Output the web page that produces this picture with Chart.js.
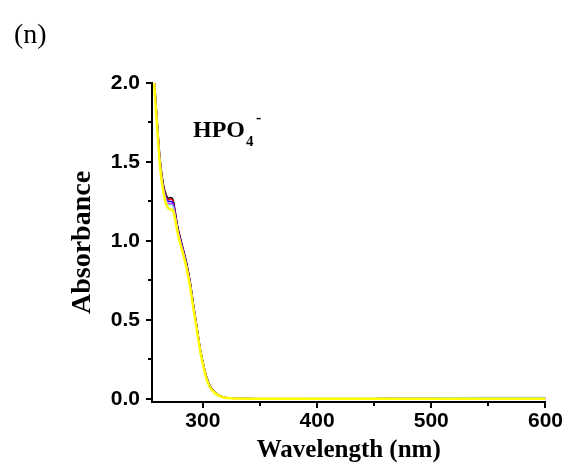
<!DOCTYPE html>
<html>
<head>
<meta charset="utf-8">
<script src="https://cdn.jsdelivr.net/npm/chart.js@4/dist/chart.umd.min.js"></script>
<style>
  html, body { margin: 0; padding: 0; background: #fff; }
  #wrap { width: 570px; height: 469px; }
</style>
</head>
<body>
<div id="wrap"><canvas id="chart" width="570" height="469"></canvas></div>
<script>
// wavelength grid (nm)
const wavelengths = [255, 258, 260, 262, 264, 266, 268, 270, 272, 274, 276, 278, 280, 283, 286, 289, 292, 295, 298, 301, 304, 307, 310, 314, 318, 324, 330, 350, 400, 450, 500, 550, 600]

// absorbance of each spectrum
const absBlack   = [2.35, 1.98, 1.77, 1.57, 1.43, 1.34, 1.29, 1.27, 1.275, 1.26, 1.18, 1.09, 1.03, 0.945, 0.855, 0.74, 0.59, 0.45, 0.31, 0.205, 0.125, 0.075, 0.047, 0.024, 0.012, 0.005, 0.003, 0.001, 0.0, 0.001, 0.002, 0.002, 0.002]
const absRed     = [2.34, 1.97, 1.76, 1.56, 1.42, 1.33, 1.28, 1.26, 1.265, 1.25, 1.17, 1.085, 1.025, 0.94, 0.85, 0.735, 0.585, 0.445, 0.305, 0.2, 0.12, 0.072, 0.045, 0.023, 0.011, 0.005, 0.003, 0.001, 0.0, 0.001, 0.002, 0.002, 0.002]
const absBlue    = [2.33, 1.96, 1.75, 1.55, 1.41, 1.32, 1.27, 1.25, 1.25, 1.24, 1.16, 1.08, 1.02, 0.935, 0.845, 0.73, 0.58, 0.44, 0.3, 0.198, 0.118, 0.07, 0.044, 0.022, 0.011, 0.005, 0.003, 0.001, 0.0, 0.001, 0.003, 0.003, 0.003]
const absMagenta = [2.32, 1.95, 1.74, 1.54, 1.40, 1.31, 1.26, 1.235, 1.235, 1.225, 1.15, 1.07, 1.01, 0.925, 0.835, 0.72, 0.57, 0.435, 0.295, 0.195, 0.115, 0.068, 0.043, 0.021, 0.01, 0.004, 0.002, 0.001, 0.0, 0.001, 0.002, 0.002, 0.002]
const absCyan    = [2.32, 1.95, 1.74, 1.54, 1.40, 1.31, 1.255, 1.23, 1.23, 1.22, 1.145, 1.065, 1.005, 0.92, 0.83, 0.715, 0.565, 0.43, 0.293, 0.193, 0.113, 0.067, 0.042, 0.021, 0.01, 0.005, 0.003, 0.002, 0.003, 0.004, 0.006, 0.008, 0.008]
const absYellow  = [2.3, 1.93, 1.72, 1.52, 1.38, 1.29, 1.23, 1.205, 1.2, 1.19, 1.13, 1.05, 0.99, 0.91, 0.82, 0.705, 0.56, 0.425, 0.29, 0.19, 0.11, 0.065, 0.04, 0.02, 0.009, 0.004, 0.002, 0.0, 0.0, 0.0, 0.0, 0.0, 0.0]

// axis ticks
const xMajorTicks = [300, 400, 500, 600]
const xMinorTicks = [350, 450, 550]
const yMajorTicks = [0, 0.5, 1.0, 1.5, 2.0]
const yMinorTicks = [0.25, 0.75, 1.25, 1.75]

function series(values, color, width) {
    return {
        data: wavelengths.map((w, i) => ({ x: w, y: values[i] })),
        borderColor: color,
        borderWidth: width,
        pointRadius: 0,
        fill: false,
        cubicInterpolationMode: 'monotone'
    }
}

// outward major/minor tick marks, placed through the chart's own scales
const tickMarks = {
    id: 'tickMarks',
    afterDraw(chart) {
        const ctx = chart.ctx
        const xs = chart.scales.x, ys = chart.scales.y
        const base = chart.chartArea.bottom
        const left = chart.chartArea.left
        ctx.save()
        ctx.strokeStyle = '#000'
        ctx.lineWidth = 2
        ctx.beginPath()
        xMajorTicks.forEach(v => { const p = Math.round(xs.getPixelForValue(v)); ctx.moveTo(p, base); ctx.lineTo(p, base + 6) })
        xMinorTicks.forEach(v => { const p = Math.round(xs.getPixelForValue(v)); ctx.moveTo(p, base); ctx.lineTo(p, base + 4) })
        yMajorTicks.forEach(v => { const p = Math.round(ys.getPixelForValue(v)); ctx.moveTo(left, p); ctx.lineTo(left - 6, p) })
        yMinorTicks.forEach(v => { const p = Math.round(ys.getPixelForValue(v)); ctx.moveTo(left, p); ctx.lineTo(left - 4, p) })
        ctx.stroke()

        // panel letter and ion label
        ctx.fillStyle = '#000'
        ctx.textBaseline = 'alphabetic'
        ctx.font = '28px "Liberation Serif", "Times New Roman", serif'
        ctx.fillText('(n)', 14, 43)
        ctx.font = 'bold 24px "Liberation Serif", "Times New Roman", serif'
        ctx.fillText('HPO', 193, 137)
        ctx.font = 'bold 15px "Liberation Serif", "Times New Roman", serif'
        ctx.fillText('4', 246, 146)
        ctx.font = 'bold 16px "Liberation Serif", "Times New Roman", serif'
        ctx.fillText('-', 256, 123)
        ctx.restore()
    }
}

new Chart(document.getElementById('chart').getContext('2d'), {
    type: 'line',
    data: {
        // first dataset is painted last, so yellow goes first to sit on top
        datasets: [
            series(absYellow, '#ffff00', 2.5),
            series(absCyan, '#8cc4f0', 1.5),
            series(absMagenta, '#ff00ff', 1.5),
            series(absBlue, '#0000ff', 1.5),
            series(absRed, '#ff0000', 1.5),
            series(absBlack, '#000000', 1.5)
        ]
    },
    options: {
        responsive: false,
        animation: false,
        events: [],
        layout: { padding: { left: 0, right: 23, top: 83, bottom: 0 } },
        plugins: { legend: { display: false }, tooltip: { enabled: false } },
        scales: {
            x: {
                type: 'linear',
                min: 255.5,
                max: 600,
                grid: { display: false, drawTicks: false },
                border: { display: true, color: '#000', width: 2 },
                afterBuildTicks: s => { s.ticks = xMajorTicks.map(v => ({ value: v })) },
                afterFit: s => { s.height = 67 },
                ticks: {
                    color: '#000',
                    padding: 7,
                    maxRotation: 0,
                    font: { family: '"Liberation Sans", Arial, sans-serif', size: 21, weight: 'bold' }
                },
                title: {
                    display: true,
                    text: 'Wavelength (nm)',
                    color: '#000',
                    padding: { top: 3, bottom: 3 },
                    font: { family: '"Liberation Serif", "Times New Roman", serif', size: 25, weight: 'bold' }
                }
            },
            y: {
                min: -0.02,
                max: 2.0,
                grid: { display: false, drawTicks: false },
                border: { display: true, color: '#000', width: 2 },
                afterBuildTicks: s => { s.ticks = yMajorTicks.map(v => ({ value: v })) },
                afterFit: s => { s.width = 152 },
                ticks: {
                    color: '#000',
                    padding: 12,
                    callback: v => v.toFixed(1),
                    font: { family: '"Liberation Sans", Arial, sans-serif', size: 21, weight: 'bold' }
                },
                title: {
                    display: true,
                    text: 'Absorbance',
                    color: '#000',
                    padding: { top: 66, bottom: 0 },
                    font: { family: '"Liberation Serif", "Times New Roman", serif', size: 28, weight: 'bold' }
                }
            }
        }
    },
    plugins: [tickMarks]
});
</script>
</body>
</html>
